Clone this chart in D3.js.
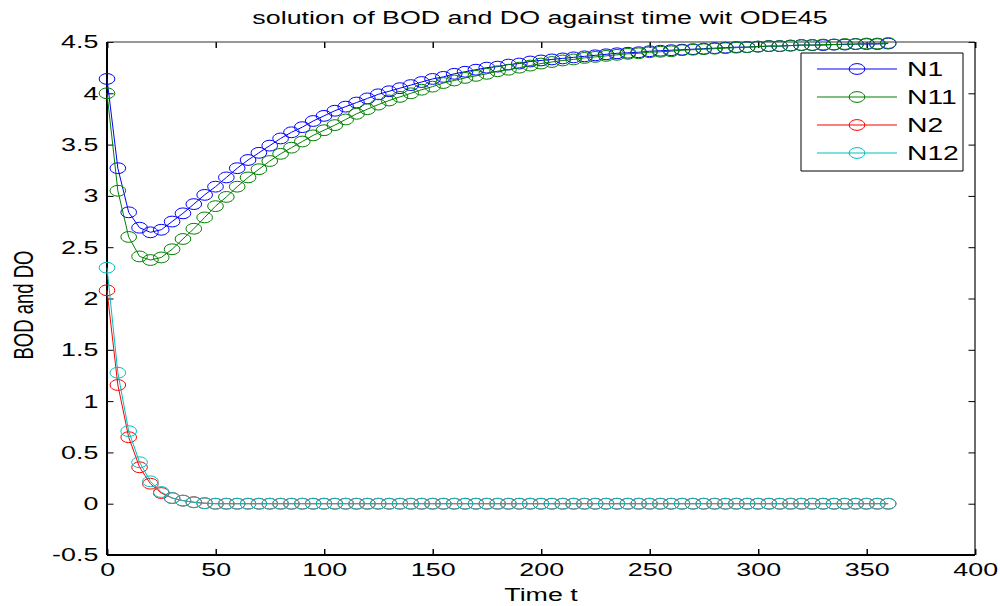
<!DOCTYPE html>
<html>
<head>
<meta charset="utf-8">
<script src="https://cdn.jsdelivr.net/npm/d3@7"></script>
<style>
body { margin: 0; background: #fff; }
text { font-family: "Liberation Sans", Arial, sans-serif; fill: #000; }
</style>
</head>
<body>
<script>
// time steps (t) of the ODE45 output
var time = [0, 5, 10, 15, 20, 25, 30, 35, 40, 45, 50, 55, 60, 65, 70, 75, 80, 85, 90, 95,
    100, 105, 110, 115, 120, 125, 130, 135, 140, 145, 150, 155, 160, 165, 170, 175, 180, 185, 190, 195,
    200, 205, 210, 215, 220, 225, 230, 235, 240, 245, 250, 255, 260, 265, 270, 275, 280, 285, 290, 295,
    300, 305, 310, 315, 320, 325, 330, 335, 340, 345, 350, 355, 360];

var n1 = [4.14, 3.27, 2.84, 2.69, 2.645, 2.67, 2.75, 2.83, 2.92, 3.01, 3.09, 3.18, 3.27, 3.35, 3.42, 3.49, 3.56, 3.62, 3.67, 3.73,
    3.78, 3.83, 3.87, 3.91, 3.95, 3.99, 4.02, 4.05, 4.08, 4.11, 4.14, 4.16, 4.19, 4.21, 4.23, 4.25, 4.26, 4.28, 4.29, 4.31,
    4.32, 4.33, 4.34, 4.35, 4.36, 4.37, 4.38, 4.39, 4.395, 4.40, 4.41, 4.415, 4.42, 4.425, 4.43, 4.435, 4.44, 4.445, 4.45, 4.45,
    4.455, 4.46, 4.46, 4.465, 4.47, 4.47, 4.47, 4.475, 4.475, 4.48, 4.48, 4.48, 4.485];

var n11 = [4.00, 3.05, 2.60, 2.41, 2.375, 2.40, 2.48, 2.58, 2.68, 2.79, 2.90, 2.99, 3.09, 3.18, 3.26, 3.34, 3.41, 3.47, 3.53, 3.59,
    3.64, 3.69, 3.745, 3.80, 3.845, 3.89, 3.93, 3.965, 4.00, 4.035, 4.065, 4.10, 4.125, 4.15, 4.17, 4.19, 4.215, 4.23, 4.25, 4.27,
    4.29, 4.305, 4.32, 4.33, 4.345, 4.355, 4.365, 4.375, 4.385, 4.39, 4.40, 4.405, 4.41, 4.42, 4.425, 4.43, 4.435, 4.44, 4.445, 4.45,
    4.455, 4.46, 4.46, 4.465, 4.47, 4.47, 4.475, 4.475, 4.48, 4.48, 4.485, 4.485, 4.49];

var n2 = [2.08, 1.157, 0.648, 0.355, 0.195, 0.104, 0.055, 0.03, 0.015, 0.005, 0, 0, 0, 0, 0, 0, 0, 0, 0, 0,
    0, 0, 0, 0, 0, 0, 0, 0, 0, 0, 0, 0, 0, 0, 0, 0, 0, 0, 0, 0,
    0, 0, 0, 0, 0, 0, 0, 0, 0, 0, 0, 0, 0, 0, 0, 0, 0, 0, 0, 0,
    0, 0, 0, 0, 0, 0, 0, 0, 0, 0, 0, 0, 0];

var n12 = [2.30, 1.277, 0.707, 0.404, 0.218, 0.114, 0.055, 0.03, 0.013, 0.004, 0, 0, 0, 0, 0, 0, 0, 0, 0, 0,
    0, 0, 0, 0, 0, 0, 0, 0, 0, 0, 0, 0, 0, 0, 0, 0, 0, 0, 0, 0,
    0, 0, 0, 0, 0, 0, 0, 0, 0, 0, 0, 0, 0, 0, 0, 0, 0, 0, 0, 0,
    0, 0, 0, 0, 0, 0, 0, 0, 0, 0, 0, 0, 0];

var seriesNames = ["N1", "N11", "N2", "N12"];
var seriesColors = ["#0000ff", "#008000", "#ff0000", "#00bfbf"];
var xTicks = [0, 50, 100, 150, 200, 250, 300, 350, 400];
var yTicks = [-0.5, 0, 0.5, 1, 1.5, 2, 2.5, 3, 3.5, 4, 4.5];

// the figure is stretched sideways, so draw in narrower units and let the viewBox stretch it
var sx = 1.45;
var w = 1000 / sx;
var h = 606;
var plotLeft = 107 / sx, plotRight = 975 / sx, plotTop = 42, plotBottom = 555;

var svg = d3.select("body")
    .append("svg")
    .attr("width", 1000)
    .attr("height", 606)
    .attr("viewBox", "0 0 " + w + " " + h)
    .attr("preserveAspectRatio", "none");

var x = d3.scaleLinear().domain([0, 400]).range([plotLeft, plotRight]);
var y = d3.scaleLinear().domain([-0.5, 4.5]).range([plotBottom, plotTop]);

// axes with inward ticks on all four sides
svg.append("g")
    .attr("transform", "translate(0," + plotBottom + ")")
    .call(d3.axisBottom(x).tickValues(xTicks).tickSize(-6).tickPadding(8))
    .call(function(g) {
        g.select(".domain").remove();
        g.selectAll("text").attr("font-size", "18.5px").attr("font-family", null);
    });

svg.append("g")
    .attr("transform", "translate(0," + plotTop + ")")
    .call(d3.axisTop(x).tickValues(xTicks).tickSize(-6).tickFormat(""))
    .call(function(g) { g.select(".domain").remove(); });

svg.append("g")
    .attr("transform", "translate(" + plotLeft + ",0)")
    .call(d3.axisLeft(y).tickValues(yTicks).tickSize(-4.5).tickPadding(6)
        .tickFormat(function(d) { return String(d); }))
    .call(function(g) {
        g.select(".domain").remove();
        g.selectAll("text").attr("font-size", "18.5px").attr("font-family", null);
    });

svg.append("g")
    .attr("transform", "translate(" + plotRight + ",0)")
    .call(d3.axisRight(y).tickValues(yTicks).tickSize(-4.5).tickFormat(""))
    .call(function(g) { g.select(".domain").remove(); });

// frame
svg.append("line")
    .attr("x1", plotLeft).attr("y1", plotTop).attr("x2", plotRight).attr("y2", plotTop)
    .attr("stroke", "#333").attr("stroke-width", 1);
svg.append("line")
    .attr("x1", plotRight).attr("y1", plotTop).attr("x2", plotRight).attr("y2", plotBottom)
    .attr("stroke", "#000").attr("stroke-width", 0.8);
svg.append("line")
    .attr("x1", plotLeft).attr("y1", plotTop).attr("x2", plotLeft).attr("y2", plotBottom)
    .attr("stroke", "#000").attr("stroke-width", 1.4);
svg.append("line")
    .attr("x1", plotLeft).attr("y1", plotBottom).attr("x2", plotRight).attr("y2", plotBottom)
    .attr("stroke", "#000").attr("stroke-width", 2);

// series
var allValues = [n1, n11, n2, n12];
var line = d3.line()
    .x(function(d, i) { return x(time[i]); })
    .y(function(d) { return y(d); });

allValues.forEach(function(vals, k) {
    svg.append("path")
        .datum(vals)
        .attr("d", line)
        .attr("fill", "none")
        .attr("stroke", seriesColors[k])
        .attr("stroke-width", 1)
        .attr("vector-effect", "non-scaling-stroke");

    svg.append("g")
        .selectAll("circle")
        .data(vals)
        .enter()
        .append("circle")
        .attr("cx", function(d, i) { return x(time[i]); })
        .attr("cy", function(d) { return y(d); })
        .attr("r", 5.4)
        .attr("fill", "none")
        .attr("stroke", seriesColors[k])
        .attr("stroke-width", 1)
        .attr("vector-effect", "non-scaling-stroke");
});

// legend
var legend = svg.append("g");
legend.append("rect")
    .attr("x", 801 / sx).attr("y", 53)
    .attr("width", 162 / sx).attr("height", 118)
    .attr("fill", "#fff")
    .attr("stroke", "#000")
    .attr("stroke-width", 1)
    .attr("vector-effect", "non-scaling-stroke");

var items = legend.selectAll("g.item")
    .data(seriesNames)
    .enter()
    .append("g")
    .attr("class", "item")
    .attr("transform", function(d, i) { return "translate(0," + (69 + i * 28) + ")"; });

items.append("line")
    .attr("x1", 817 / sx).attr("x2", 897 / sx)
    .attr("stroke", function(d, i) { return seriesColors[i]; })
    .attr("stroke-width", 1);
items.append("circle")
    .attr("cx", 857 / sx).attr("r", 5.4)
    .attr("fill", "none")
    .attr("stroke", function(d, i) { return seriesColors[i]; })
    .attr("stroke-width", 1)
    .attr("vector-effect", "non-scaling-stroke");
items.append("text")
    .attr("x", 907 / sx)
    .attr("dy", "0.36em")
    .attr("font-size", "19.5px")
    .text(function(d) { return d; });

// titles
svg.append("text")
    .attr("x", 540 / sx).attr("y", 24)
    .attr("text-anchor", "middle")
    .attr("font-size", "18.5px")
    .text("solution of BOD and DO against time wit ODE45");

svg.append("text")
    .attr("x", x(200)).attr("y", 601)
    .attr("text-anchor", "middle")
    .attr("font-size", "18.5px")
    .text("Time t");

svg.append("text")
    .attr("transform", "translate(" + (33 / sx) + ",305) rotate(-90)")
    .attr("text-anchor", "middle")
    .attr("font-size", "18.5px")
    .text("BOD and DO");
</script>
</body>
</html>
